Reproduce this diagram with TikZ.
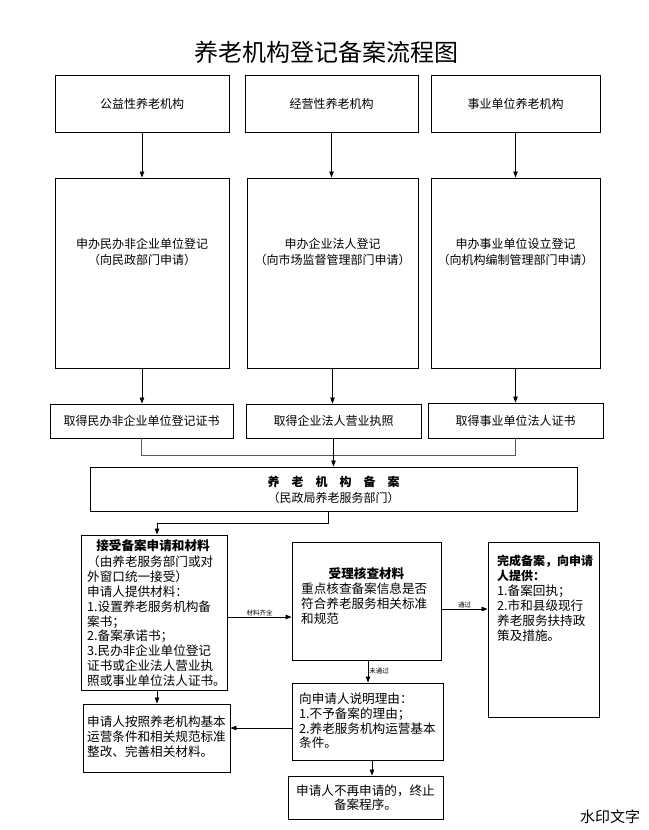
\documentclass[tikz,border=0pt]{standalone}
\usepackage{fontspec}
\setmainfont{Noto Sans CJK SC}
\usetikzlibrary{arrows.meta}
\tikzset{
  box/.style={draw, line width=0.9pt, inner sep=0pt, align=center, font=\fontsize{12}{16}\selectfont},
  txt/.style={inner sep=0pt, align=left, anchor=north west, font=\fontsize{12.6}{14.8}\selectfont},
  arr/.style={-{Triangle[length=6pt,width=4.5pt]}, line width=0.8pt},
  lbl/.style={inner sep=1pt, font=\fontsize{6.5}{7}\selectfont},
}
\begin{document}
\begin{tikzpicture}[x=1pt,y=-1pt]
\useasboundingbox (0,0) rectangle (648,830);
\fill[white] (0,0) rectangle (648,830);
% title
\node[font=\fontsize{24}{26}\selectfont, inner sep=0] (title) at (326,52) {养老机构登记备案流程图};
% row A
\node[box, minimum width=174pt, minimum height=57pt] (a1) at (142,103.5) {公益性养老机构};
\node[box, minimum width=173pt, minimum height=57pt] (a2) at (331.5,103.5) {经营性养老机构};
\node[box, minimum width=169pt, minimum height=57pt] (a3) at (515.5,103.5) {事业单位养老机构};
% row B
\node[box, minimum width=174pt, minimum height=190pt] (b1) at (142,273) {};
\node[box, minimum width=171pt, minimum height=190pt] (b2) at (332.5,273) {};
\node[box, minimum width=169pt, minimum height=190pt] (b3) at (515.5,273) {};
\node[box, draw=none] (b1t) at (142,252) {申办民办非企业单位登记\\（向民政部门申请）};
\node[box, draw=none] (b2t) at (332.5,252) {申办企业法人登记\\（向市场监督管理部门申请）};
\node[box, draw=none] (b3t) at (515.5,252) {申办事业单位设立登记\\（向机构编制管理部门申请）};
% row C
\node[box, minimum width=183pt, minimum height=34pt] (c1) at (141.5,421) {取得民办非企业单位登记证书};
\node[box, minimum width=175pt, minimum height=34pt] (c2) at (333.5,421) {取得企业法人营业执照};
\node[box, minimum width=175pt, minimum height=35pt] (c3) at (515.5,420.5) {取得事业单位法人证书};
% D
\node[box, minimum width=487pt, minimum height=44pt] (d) at (333.5,489) {};
\node[box, draw=none, font=\fontsize{12}{16}\selectfont] (dt) at (333.5,490) {\textbf{养\hspace{1em}老\hspace{1em}机\hspace{1em}构\hspace{1em}备\hspace{1em}案}\\（民政局养老服务部门）};
% E
\node[box, minimum width=146pt, minimum height=155pt] (e) at (154,612.5) {};
\node[inner sep=0, font=\fontsize{12.6}{14.8}\selectfont\bfseries] (et1) at (153,546) {接受备案申请和材料};
\node[txt] (et2) at (87,556) {（由养老服务部门或对\\外窗口统一接受）\\申请人提供材料：\\1.设置养老服务机构备\\案书；\\2.备案承诺书；\\3.民办非企业单位登记\\证书或企业法人营业执\\照或事业单位法人证书。};
% F
\node[box, minimum width=149pt, minimum height=118pt] (f) at (366.5,601) {};
\node[inner sep=0, font=\fontsize{12.6}{14.8}\selectfont\bfseries] (ft1) at (366.5,574) {受理核查材料};
\node[txt] (ft2) at (301,583) {重点核查备案信息是否\\符合养老服务相关标准\\和规范};
% J
\node[box, minimum width=111pt, minimum height=175pt] (j) at (543.5,629.5) {};
\node[txt, font=\fontsize{12}{14.8}\selectfont\bfseries] (jt1) at (497,555) {完成备案，向申请\\人提供：};
\node[txt] (jt2) at (497,585) {1.备案回执；\\2.市和县级现行\\养老服务扶持政\\策及措施。};
% H
\node[box, minimum width=151pt, minimum height=77pt] (h) at (367.5,721.5) {};
\node[txt, font=\fontsize{12.6}{14.6}\selectfont] (ht) at (299,693) {向申请人说明理由：\\1.不予备案的理由；\\2.养老服务机构运营基本\\条件。};
% G
\node[box, minimum width=147pt, minimum height=68pt] (g) at (156.5,738) {};
\node[txt] (gt) at (87,716) {申请人按照养老机构基本\\运营条件和相关规范标准\\整改、完善相关材料。};
% I
\node[box, minimum width=155pt, minimum height=43pt, font=\fontsize{12.6}{14.6}\selectfont] (i) at (365.5,797.5) {申请人不再申请的，终止\\备案程序。};
% watermark
\node[inner sep=0, font=\fontsize{15}{16}\selectfont] (wm) at (610,817) {水印文字};
% connectors
\draw[arr] (a1.south) -- (b1.north);
\draw[arr] (a2.south) -- (a2.south |- b2.north);
\draw[arr] (a3.south) -- (b3.north);
\draw[arr] (b1.south) -- (b1.south |- c1.north);
\draw[arr] (b2.south) -- (b2.south |- c2.north);
\draw[arr] (b3.south) -- (b3.south |- c3.north);
\draw[line width=0.9pt, gray!70!black] (c1.south) -- ++(0,17) -| (c3.south);
\draw[arr] (c2.south) -- (d.north);
\draw[arr] ([xshift=-5.5pt]d.south) -- ++(0,12) -| ([xshift=3pt]e.north);
\draw[arr] ([yshift=-4.5pt]e.east) -- node[lbl, above] {材料齐全} ([yshift=-4.5pt]e.east -| f.west);
\draw[arr] ([yshift=-8pt]f.east) -- node[lbl, above] {通过} ([yshift=-8pt]f.east -| j.west);
\draw[arr] ([xshift=1.5pt]f.south) -- node[lbl, right] {未通过} ([xshift=1.5pt]f.south |- h.north);
\draw[arr] ([yshift=-6.5pt]h.west) -- ([yshift=-6.5pt]h.west -| g.east);
\draw[arr] ([xshift=4.5pt]h.south) -- ([xshift=4.5pt]h.south |- i.north);
\draw[arr] ([xshift=3pt]e.south) -- ([xshift=3pt]e.south |- g.north);
\end{tikzpicture}
\end{document}
